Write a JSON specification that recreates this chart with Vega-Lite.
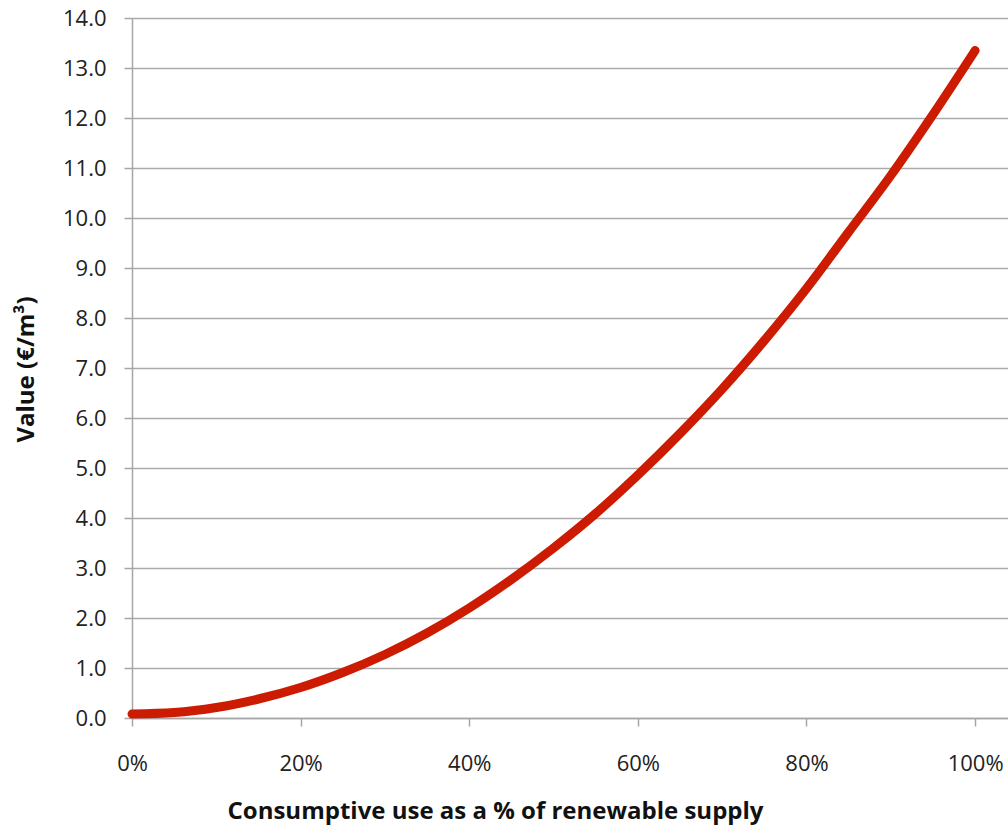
{
  "$schema": "https://vega.github.io/schema/vega-lite/v6.json",
  "width": 876,
  "height": 700,
  "autosize": "none",
  "padding": {"left": 132, "top": 18, "right": 0, "bottom": 109},
  "background": "white",
  "config": {
    "view": {"stroke": null},
    "font": "Open Sans"
  },
  "data": {
    "values": [
      {"share": 0.00, "value": 0.08},
      {"share": 0.05, "value": 0.11},
      {"share": 0.10, "value": 0.21},
      {"share": 0.15, "value": 0.38},
      {"share": 0.20, "value": 0.61},
      {"share": 0.25, "value": 0.91},
      {"share": 0.30, "value": 1.27},
      {"share": 0.35, "value": 1.70},
      {"share": 0.40, "value": 2.20},
      {"share": 0.45, "value": 2.77},
      {"share": 0.50, "value": 3.40},
      {"share": 0.55, "value": 4.09},
      {"share": 0.60, "value": 4.86},
      {"share": 0.65, "value": 5.69},
      {"share": 0.70, "value": 6.58},
      {"share": 0.75, "value": 7.55},
      {"share": 0.80, "value": 8.59},
      {"share": 0.85, "value": 9.72},
      {"share": 0.90, "value": 10.85},
      {"share": 0.95, "value": 12.07},
      {"share": 1.00, "value": 13.35}
    ]
  },
  "mark": {
    "type": "line",
    "color": "#cc1b00",
    "strokeWidth": 9,
    "strokeCap": "round",
    "strokeJoin": "round",
    "interpolate": "monotone"
  },
  "encoding": {
    "x": {
      "field": "share",
      "type": "quantitative",
      "scale": {"domain": [0, 1.039], "nice": false, "zero": false},
      "axis": {
        "values": [0, 0.2, 0.4, 0.6, 0.8, 1.0],
        "format": ".0%",
        "grid": false,
        "domainColor": "#a6a6a6",
        "domainWidth": 1.5,
        "tickColor": "#a6a6a6",
        "tickWidth": 1.5,
        "tickSize": 8,
        "labelFlush": false,
        "labelFontSize": 22,
        "labelColor": "#222222",
        "labelBaseline": "alphabetic",
        "labelPadding": 44,
        "labelFont": "Open Sans",
        "title": "Consumptive use as a % of renewable supply",
        "titleFont": "Open Sans",
        "titleFontSize": 24,
        "titleFontWeight": "bold",
        "titleColor": "#111111",
        "titleAnchor": "start",
        "titleAlign": "center",
        "titleX": 363,
        "titleY": 100,
        "titleBaseline": "alphabetic"
      }
    },
    "y": {
      "field": "value",
      "type": "quantitative",
      "scale": {"domain": [0, 14], "nice": false},
      "axis": {
        "values": [0, 1, 2, 3, 4, 5, 6, 7, 8, 9, 10, 11, 12, 13, 14],
        "format": ".1f",
        "grid": true,
        "gridColor": "#aaaaaa",
        "gridWidth": 1.5,
        "domainColor": "#a6a6a6",
        "domainWidth": 1.5,
        "tickColor": "#a6a6a6",
        "tickWidth": 1.5,
        "tickSize": 8,
        "labelFontSize": 22,
        "labelColor": "#222222",
        "labelPadding": 18,
        "labelFont": "Open Sans",
        "title": "Value (€/m³)",
        "titleFont": "Open Sans",
        "titleFontSize": 24,
        "titleFontWeight": "bold",
        "titleColor": "#111111",
        "titleAngle": -90,
        "titleAnchor": "start",
        "titleAlign": "center",
        "titleX": -99,
        "titleY": 351,
        "titleBaseline": "alphabetic"
      }
    }
  }
}
